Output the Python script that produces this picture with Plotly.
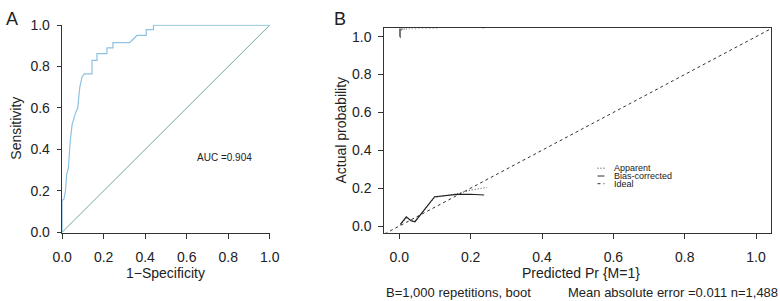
import plotly.graph_objects as go

# ---------------- data ----------------
# Panel A: ROC curve
roc_fpr = [0.0, 0.0, 0.004, 0.008, 0.016, 0.022, 0.03, 0.035, 0.04, 0.048, 0.056, 0.064,
           0.075, 0.085, 0.096, 0.107, 0.144, 0.144, 0.168, 0.168, 0.216, 0.216, 0.245,
           0.245, 0.325, 0.36, 0.405, 0.405, 0.44, 0.44, 1.0]
roc_tpr = [0.0, 0.157, 0.157, 0.157, 0.2, 0.28, 0.31, 0.40, 0.45, 0.52, 0.55, 0.575,
           0.60, 0.70, 0.75, 0.765, 0.765, 0.83, 0.83, 0.862, 0.862, 0.89, 0.89,
           0.915, 0.915, 0.95, 0.95, 0.978, 0.978, 1.0, 1.0]
ref_x = [0.0, 1.0]
ref_y = [0.0, 1.0]
auc_label = "AUC =0.904"

# Panel B: calibration curve
app_x = [0.003, 0.02, 0.033, 0.044, 0.099, 0.133, 0.165, 0.2, 0.246]
app_y = [0.005, 0.042, 0.03, 0.026, 0.15, 0.162, 0.172, 0.19, 0.204]
bc_x = [0.003, 0.0196, 0.033, 0.044, 0.099, 0.162, 0.199, 0.238]
bc_y = [0.009, 0.049, 0.028, 0.023, 0.155, 0.167, 0.168, 0.164]
ideal_x = [-0.1, 1.1]
ideal_y = [-0.1, 1.1]
# distribution of predicted probabilities (spike histogram along top)
spike_x = [0.001, 0.003, 0.006, 0.010, 0.015, 0.02, 0.028, 0.036, 0.045, 0.055,
           0.065, 0.075, 0.085, 0.095, 0.105, 0.235]
spike_h = [0.045, 0.052, 0.012, 0.008, 0.006, 0.006, 0.005, 0.005, 0.005, 0.004,
           0.004, 0.004, 0.004, 0.004, 0.004, 0.004]

ticks = [0.0, 0.2, 0.4, 0.6, 0.8, 1.0]
tick_text = ["0.0", "0.2", "0.4", "0.6", "0.8", "1.0"]
legend_labels = ["Apparent", "Bias-corrected", "Ideal"]
note_left = "B=1,000 repetitions, boot"
note_right = "Mean absolute error =0.011 n=1,488"

# ---------------- layout helpers ----------------
W, H = 780, 301
def px(x):
    return x / W
def py(y):
    return 1 - y / H

FONT = "Liberation Sans, Arial, Helvetica, sans-serif"
INK = "#222222"
AXC = "#333333"

xB_range = [-0.042, 1.041]
yB_range = [-0.035, 1.044]

fig = go.Figure()

# Panel A traces
fig.add_trace(go.Scatter(x=ref_x, y=ref_y, mode="lines", xaxis="x", yaxis="y",
                         line=dict(color="#6fa9a6", width=1), showlegend=False))
fig.add_trace(go.Scatter(x=roc_fpr, y=roc_tpr, mode="lines", xaxis="x", yaxis="y",
                         line=dict(color="#8cc2e2", width=1.2), showlegend=False))

# Panel B traces
fig.add_trace(go.Scatter(x=ideal_x, y=ideal_y, mode="lines", xaxis="x2", yaxis="y2",
                         line=dict(color="#333333", width=1, dash="3px,3px"), showlegend=False))
fig.add_trace(go.Scatter(x=app_x, y=app_y, mode="lines", xaxis="x2", yaxis="y2",
                         line=dict(color="#444444", width=1, dash="1px,2px"), showlegend=False))
fig.add_trace(go.Scatter(x=bc_x, y=bc_y, mode="lines", xaxis="x2", yaxis="y2",
                         line=dict(color="#222222", width=1.2), showlegend=False))
sx, sy = [], []
top = yB_range[1]
for x, h in zip(spike_x, spike_h):
    sx += [x, x, None]
    sy += [top, top - h, None]
fig.add_trace(go.Scatter(x=sx, y=sy, mode="lines", xaxis="x2", yaxis="y2",
                         line=dict(color="#666666", width=1), showlegend=False))

axis_common = dict(showgrid=False, zeroline=False, showline=True, linecolor=AXC,
                   linewidth=1, ticks="outside", tickcolor=AXC, tickwidth=1,
                   tickvals=ticks, ticktext=tick_text, automargin=False,
                   tickfont=dict(family=FONT, size=14, color=INK))

fig.update_layout(
    template="none",
    width=W, height=H, margin=dict(l=0, r=0, t=0, b=0, autoexpand=False),
    paper_bgcolor="white", plot_bgcolor="white",
    xaxis=dict(domain=[px(61.7), px(270.2)], range=[-0.002, 1.002], anchor="y",
               ticklen=5, ticklabelstandoff=6, **axis_common),
    yaxis=dict(domain=[py(232.7), py(24.7)], range=[-0.002, 1.002], anchor="x",
               ticklen=4, ticklabelstandoff=4, **axis_common),
    xaxis2=dict(domain=[px(384.3), px(770.7)], range=xB_range, anchor="y2",
                ticklen=5, ticklabelstandoff=6, mirror=True, **axis_common),
    yaxis2=dict(domain=[py(232.7), py(28.3)], range=yB_range, anchor="x2",
                ticklen=5, ticklabelstandoff=4, mirror=True, **axis_common),
)

def ann(text, x, y, size, xanchor="center", yanchor="middle", angle=0, pad=1):
    fig.add_annotation(text=text, x=px(x), y=py(y), xref="paper", yref="paper",
                       xanchor=xanchor, yanchor=yanchor, showarrow=False,
                       textangle=angle, borderpad=pad,
                       font=dict(family=FONT, size=size, color=INK))

ann("A", 12.5, 19, 18)
ann("B", 340, 18.5, 18)
ann("Sensitivity", 16, 128.7, 14, angle=-90)
ann("1\u2212Specificity", 165, 272.7, 14)
ann(auc_label, 195, 157.3, 10, xanchor="left")
ann("Actual probability", 340, 130.5, 14, angle=-90)
ann("Predicted Pr {M=1}", 580.5, 273.3, 14)
ann(note_left, 385, 301, 13, xanchor="left", yanchor="bottom", pad=0)
ann(note_right, 778.5, 301, 13, xanchor="right", yanchor="bottom", pad=0)

# manual legend
leg_y = [168.2, 176.0, 183.7]
leg_dash = ["1px,2px", "solid", "3px,3px"]
for lab, yy, d in zip(legend_labels, leg_y, leg_dash):
    fig.add_shape(type="line", xref="paper", yref="paper",
                  x0=px(597.5), x1=px(604.5), y0=py(yy), y1=py(yy),
                  line=dict(color="#333333", width=1, dash=d))
    ann(lab, 612.5, yy, 9, xanchor="left", pad=0)

fig.write_html("out.html", config={"displayModeBar": False},
               post_script="document.body.style.margin='0';document.body.style.overflow='hidden';")
